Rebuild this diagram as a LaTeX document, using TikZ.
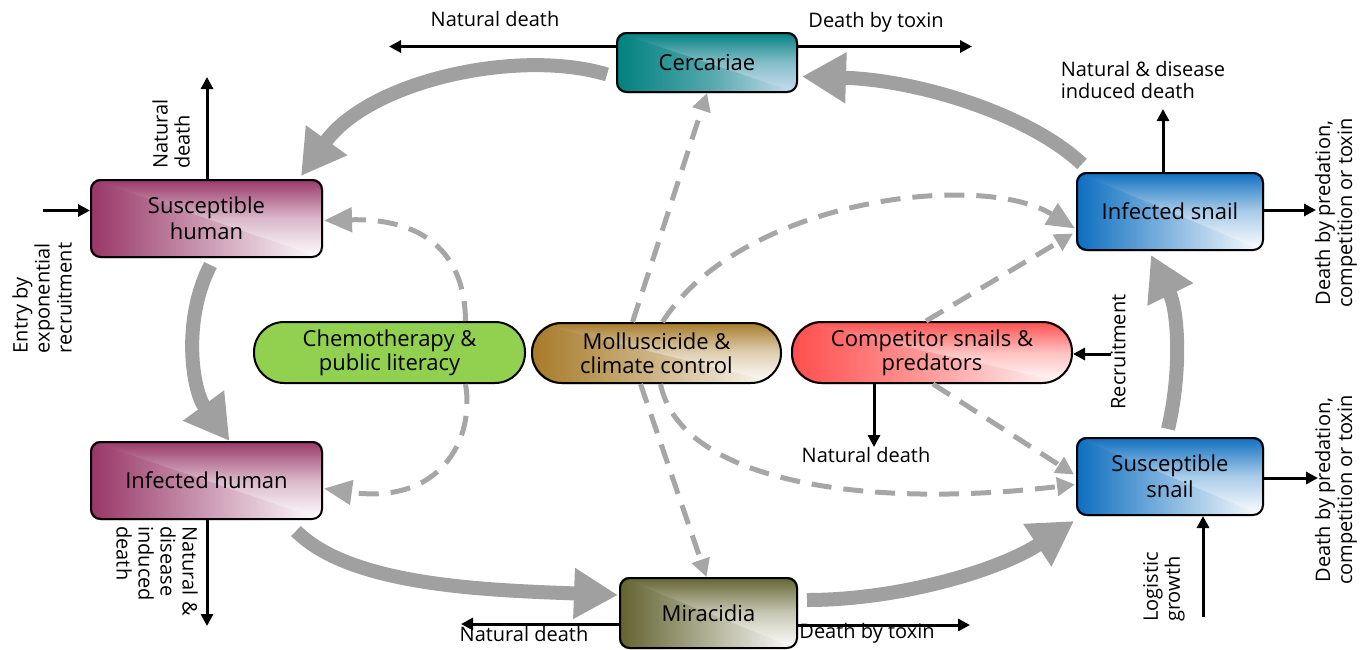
\documentclass[tikz,border=0pt]{standalone}
\usepackage{fontspec}
\setmainfont{Open Sans}
\usetikzlibrary{arrows.meta,backgrounds}
\definecolor{agray}{HTML}{A0A0A0}
\definecolor{dgray}{HTML}{A6A6A6}
\definecolor{purp}{HTML}{983667}
\definecolor{teal1}{HTML}{00807E}
\definecolor{ltblue}{HTML}{CCDFF0}
\definecolor{snailblue}{HTML}{0C6EC0}
\definecolor{olive1}{HTML}{62622F}
\definecolor{brown1}{HTML}{A67A28}
\definecolor{red1}{HTML}{FF4D4D}
\definecolor{green1}{HTML}{92D050}
% corner gradient: dark along left and top edges, light at the bottom-right corner
\newcommand{\cornergrad}[5]{%
  \begin{scope}
    \clip[rounded corners=#4] (#1.south west) rectangle (#1.north east);
    \shade[left color=#2, right color=#3, middle color=#2!#5!#3] (#1.south west) rectangle (#1.north east);
    \shade[top color=#2, bottom color=#3, middle color=#2!35!#3] (#1.north west) -- (#1.north east) -- (#1.south east) -- cycle;
  \end{scope}}
\begin{document}
\begin{tikzpicture}[x=0.5pt,y=-0.5pt,
 box/.style={draw=black, line width=1pt, rounded corners=5pt, inner sep=2pt, align=center, font=\fontsize{11}{13}\selectfont, text=black},
 pill/.style={box, rounded corners=15pt, font=\fontsize{11}{12}\selectfont},
 lbl/.style={font=\fontsize{10}{11}\selectfont, inner sep=0pt, align=left},
 blk/.style={line width=1.5pt, -{Triangle[length=6pt,width=6pt]}},
 flow/.style={agray, line width=7pt, -{Triangle[length=22pt,width=24pt]}},
 ctrlbig/.style={dgray, line width=2.5pt, dash pattern=on 10pt off 6pt, -{Triangle[length=14pt,width=12pt]}},
 ctrlsm/.style={dgray, line width=2.5pt, dash pattern=on 10pt off 6pt, -{Triangle[length=9pt,width=9pt]}},
]
\useasboundingbox (0,0) rectangle (1366,649);

% compartments
\node[box, minimum width=90pt, minimum height=29.5pt] (cerc) at (707,62.5) {Cercariae};
\node[box, minimum width=115.5pt, minimum height=38.5pt] (sh) at (206.5,218.5) {Susceptible\\human};
\node[box, minimum width=115.5pt, minimum height=38.5pt] (ih) at (206.5,480.5) {Infected human};
\node[box, minimum width=88.5pt, minimum height=35pt] (mir) at (708.5,613) {Miracidia};
\node[box, minimum width=93pt, minimum height=38.5pt] (is) at (1170,211.5) {Infected snail};
\node[box, minimum width=93pt, minimum height=38.5pt] (ss) at (1170,476.5) {Susceptible\\snail};

% controls
\node[pill, minimum width=135.5pt, minimum height=30.5pt, fill=green1] (chemo) at (389.5,352.5) {Chemotherapy \&\\public literacy};
\node[pill, minimum width=124.5pt, minimum height=30pt] (moll) at (656.5,353) {Molluscicide \&\\climate control};
\node[pill, minimum width=140pt, minimum height=30.5pt] (comp) at (932,352.5) {Competitor snails \&\\predators};

\begin{pgfonlayer}{background}
  \cornergrad{cerc}{teal1}{ltblue}{5pt}{60}
  \cornergrad{sh}{purp}{white}{5pt}{50}
  \cornergrad{ih}{purp}{white}{5pt}{50}
  \cornergrad{mir}{olive1}{white}{5pt}{50}
  \cornergrad{is}{snailblue}{white}{5pt}{50}
  \cornergrad{ss}{snailblue}{white}{5pt}{50}
  \cornergrad{moll}{brown1}{white}{15pt}{55}
  \cornergrad{comp}{red1}{white}{15pt}{55}
\end{pgfonlayer}

% main flows
\draw[flow] ([shift={(-9,12)}]cerc.west) .. controls (520,48) and (370,80) .. ([shift={(-22,-3)}]sh.north east);
\draw[flow] ([shift={(4,7)}]sh.south) .. controls (182,320) and (192,390) .. ([shift={(23,0)}]ih.north);
\draw[flow] ([shift={(-27,11)}]ih.south east) .. controls (350,585) and (480,590) .. ([shift={(-1,-18)}]mir.west);
\draw[flow] ([shift={(9,-13)}]mir.east) .. controls (900,600) and (1000,570) .. ([shift={(-2,5)}]ss.south west);
\draw[flow] ([shift={(-2,-8)}]ss.north) .. controls (1182,370) and (1178,310) .. ([shift={(-19,4)}]is.south);
\draw[flow] ([shift={(6,-8)}]is.north west) .. controls (1030,115) and (920,80) .. ([shift={(4,14)}]cerc.east);

% control effects
\draw[ctrlbig] ([shift={(76,0)}]chemo.north) .. controls (465,250) and (420,218) .. ([shift={(1,2)}]sh.east);
\draw[ctrlbig] ([shift={(76,0)}]chemo.south) .. controls (475,440) and (440,505) .. ([shift={(1,8)}]ih.east);
\draw[ctrlsm] ([shift={(-24,0)}]moll.north) -- (cerc.south);
\draw[ctrlbig] ([shift={(6,0)}]moll.north) .. controls (740,200) and (980,170) .. ([shift={(-1,17)}]is.west);
\draw[ctrlsm] ([shift={(-6,0)}]comp.north) -- ([shift={(-3,22)}]is.west);
\draw[ctrlsm] ([shift={(-16,0)}]moll.south) -- ([shift={(-2,0)}]mir.north);
\draw[ctrlsm] ([shift={(4,0)}]moll.south) .. controls (680,480) and (860,510) .. ([shift={(-1,8)}]ss.west);
\draw[ctrlsm] ([shift={(1,0)}]comp.south) -- ([shift={(-2,-2)}]ss.west);

% cercariae losses
\coordinate (cnd) at (389,46.5);
\coordinate (ctx) at (972,46.5);
\draw[blk] (cerc.west |- cnd) -- (cnd);
\draw[blk] (cerc.east |- ctx) -- (ctx);
\node[lbl] (lcnd) at (495,19) {Natural death};
\node[lbl] (lctx) at (876,22) {Death by toxin};

% susceptible human
\coordinate (shnd) at (207,77);
\draw[blk] (sh.north -| shnd) -- (shnd);
\node[lbl, rotate=90] (lshnd) at (171,134) {Natural\\death};
\coordinate (entry) at (43,210.5);
\draw[blk] (entry) -- (sh.west |- entry);
\node[lbl, rotate=90] (lentry) at (42,298) {Entry by\\exponential\\recruitment};

% infected human
\coordinate (ihnd) at (207,626);
\draw[blk] (ih.south -| ihnd) -- (ihnd);
\node[lbl, rotate=-90] (lihnd) at (157,571) {Natural \&\\disease\\induced\\death};

% miracidia
\coordinate (mnd) at (461,624);
\coordinate (mtx) at (970,625);
\draw[blk] (mir.west |- mnd) -- (mnd);
\draw[blk] (mir.east |- mtx) -- (mtx);
\node[lbl] (lmnd) at (524,634) {Natural death};
\node[lbl] (lmtx) at (867,633) {Death by toxin};

% infected snail
\coordinate (isnd) at (1163,109);
\draw[blk] (is.north -| isnd) -- (isnd);
\node[lbl] (lisnd) at (1143,80) {Natural \& disease\\induced death};
\coordinate (isr) at (1316,210);
\draw[blk] (is.east |- isr) -- (isr);
\node[lbl, rotate=90, align=center] (lisr) at (1336,213) {Death by predation,\\competition or toxin};

% susceptible snail
\coordinate (ssr) at (1318,478);
\draw[blk] (ss.east |- ssr) -- (ssr);
\node[lbl, rotate=90, align=center] (lssr) at (1336,490) {Death by predation,\\competition or toxin};
\coordinate (lg) at (1203,617);
\draw[blk] (lg) -- (ss.south -| lg);
\node[lbl, rotate=90] (llg) at (1164,587) {Logistic\\growth};

% competitors
\coordinate (rec) at (1111,354);
\draw[blk] (rec) -- (comp.east |- rec);
\node[lbl, rotate=90] (lrec) at (1118,352) {Recruitment};
\coordinate (cnd2) at (874,447);
\draw[blk] (comp.south -| cnd2) -- (cnd2);
\node[lbl] (lcnd2) at (866,455) {Natural death};
\end{tikzpicture}
\end{document}
